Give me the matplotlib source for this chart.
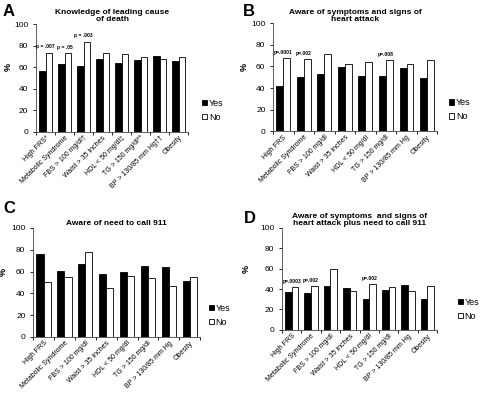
import numpy as np
import matplotlib.pyplot as plt

plt.rcParams['font.family'] = ['Liberation Sans', 'DejaVu Sans']

labels_a = ["High FRS*", "Metabolic Syndrome", "FBS > 100 mg/dl\u2020", "Waist > 35 inches",
            "HDL < 50 mg/dl\u2021", "TG > 150 mg/dl**", "BP > 130/85 mm Hg\u2020\u2020", "Obesity"]
labels = ["High FRS", "Metabolic Syndrome", "FBS > 100 mg/dl", "Waist > 35 inches",
          "HDL < 50 mg/dl", "TG > 150 mg/dl", "BP > 130/85 mm Hg", "Obesity"]

a_yes = [56.7, 62.5, 61.3, 67.2, 63.5, 66.6, 70.6, 66.0]
a_no = [73.4, 72.8, 83.6, 73.4, 71.8, 69.0, 67.5, 69.7]
b_yes = [41.5, 50.5, 53.0, 59.8, 51.0, 51.4, 58.8, 49.5]
b_no = [67.5, 66.6, 71.2, 62.2, 64.4, 66.0, 62.2, 66.0]
c_yes = [76.0, 60.6, 67.0, 57.5, 59.4, 65.2, 64.0, 51.7]
c_no = [50.8, 54.8, 77.5, 45.2, 56.0, 54.5, 47.0, 55.4]
d_yes = [36.7, 36.0, 42.6, 41.0, 30.2, 39.3, 43.6, 30.2]
d_no = [41.6, 42.6, 59.7, 38.4, 45.2, 41.6, 37.7, 42.6]

a_p = {0: "p = .007", 1: "p = .05", 2: "p = .003"}
b_p = {0: "p=.0001", 1: "p=.002", 5: "p=.008"}
c_p = {}
d_p = {0: "p=.0003", 1: "p=.002", 4: "p=.002"}

# letter, title, labels, yes, no, p-values, axes rect, letter pos (fig), legend x (axes)
panels = [
    ("A", "Knowledge of leading cause\nof death", labels_a, a_yes, a_no, a_p,
     [0.075, 0.667, 0.317, 0.272], (0.006, 0.99), 1.07),
    ("B", "Aware of symptoms and signs of\nheart attack", labels, b_yes, b_no, b_p,
     [0.569, 0.668, 0.342, 0.273], (0.506, 0.99), 1.05),
    ("C", "Aware of need to call 911", labels, c_yes, c_no, c_p,
     [0.069, 0.147, 0.348, 0.276], (0.006, 0.49), 1.03),
    ("D", "Aware of symptoms  and signs of\nheart attack plus need to call 911", labels, d_yes, d_no, d_p,
     [0.5875, 0.165, 0.323, 0.258], (0.508, 0.465), 1.11),
]

fig = plt.figure(figsize=(4.8, 3.95), dpi=100)
w = 0.34
for letter, title, labs, yes, no, pvals, rect, letpos, legx in panels:
    ax = fig.add_axes(rect)
    x = np.arange(len(labs))
    ax.bar(x - w / 2, yes, w, color='black', edgecolor='black', linewidth=0.6, label='Yes')
    ax.bar(x + w / 2, no, w, color='white', edgecolor='black', linewidth=0.6, label='No')
    for i, txt in pvals.items():
        top = max(yes[i], no[i])
        ax.text(x[i], top + 3, txt, ha='center', va='bottom', fontsize=3.6, fontweight='bold')
    ax.set_xlim(-0.5, len(labs) - 0.5)
    ax.set_ylim(0, 100)
    ax.set_yticks(range(0, 101, 20))
    ax.tick_params(axis='y', labelsize=6, length=2.5, width=0.6, pad=3)
    ax.set_xticks(x)
    ax.set_xticklabels(labs, rotation=45, ha='right', rotation_mode='anchor', fontsize=5.0)
    ax.tick_params(axis='x', length=0, pad=2)
    ax.set_xticks(np.arange(len(labs) + 1) - 0.5, minor=True)
    ax.tick_params(axis='x', which='minor', length=2.5, width=0.6)
    for s in ['top', 'right']:
        ax.spines[s].set_visible(False)
    for s in ['left', 'bottom']:
        ax.spines[s].set_linewidth(0.6)
        ax.spines[s].set_color('#444444')
    ax.set_ylabel('%', fontsize=6.5, fontweight='bold', labelpad=2)
    ax.yaxis.set_label_coords(-0.15 if letter != 'D' else -0.2, 0.6)
    ax.set_title(title, fontsize=6, fontweight='bold', pad=2, linespacing=1.0)
    fig.text(letpos[0], letpos[1], letter, fontsize=12, fontweight='bold', va='top', ha='left')
    ax.legend(loc='center left', bbox_to_anchor=(legx, 0.2), frameon=False,
              fontsize=6.5, handlelength=0.55, handleheight=0.55, handletextpad=0.2,
              labelspacing=0.55, borderaxespad=0)

fig.savefig('out.png', dpi=100)
